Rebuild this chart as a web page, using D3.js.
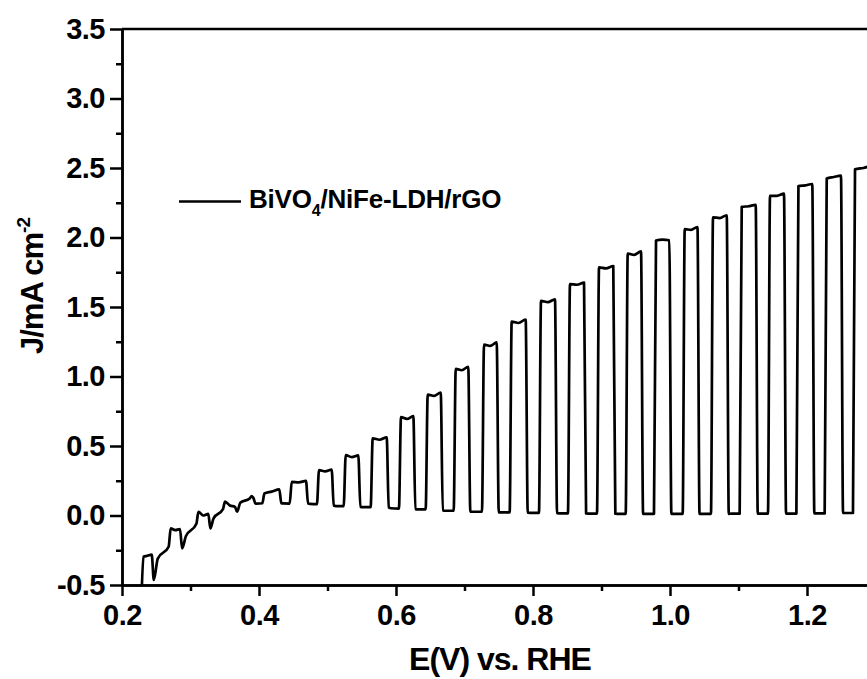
<!DOCTYPE html>
<html>
<head>
<meta charset="utf-8">
<script src="https://cdn.jsdelivr.net/npm/d3@7"></script>
<style>
  html, body { margin: 0; padding: 0; background: #fff; }
  svg { display: block; }
  text { font-family: "Liberation Sans", Arial, sans-serif; font-weight: bold; fill: #000; }
</style>
</head>
<body>
<svg id="chart" width="867" height="679"></svg>
<script>
// tick values
var xTicks = [0.2, 0.4, 0.6, 0.8, 1.0, 1.2];
var xMinor = [0.3, 0.5, 0.7, 0.9, 1.1, 1.3];
var yTicks = [-0.5, 0.0, 0.5, 1.0, 1.5, 2.0, 2.5, 3.0, 3.5];
var yMinor = [-0.25, 0.25, 0.75, 1.25, 1.75, 2.25, 2.75, 3.25];

var seriesName = "BiVO4/NiFe-LDH/rGO";

// chopped light: potential (V vs RHE) where the light goes on / off
var riseE = [0.2288, 0.2686, 0.3091, 0.3479, 0.3869, 0.4054, 0.4453, 0.4851, 0.5241, 0.5635,
             0.6048, 0.6438, 0.6847, 0.7260, 0.7664, 0.8092, 0.8515, 0.8939, 0.9358, 0.9771,
             1.0190, 1.0603, 1.1022, 1.1435, 1.1850, 1.2263, 1.2676];
var fallE = [0.2434, 0.2847, 0.3260, 0.3650, 0.3917, 0.4296, 0.4686, 0.5061, 0.5450, 0.5864,
             0.6253, 0.6653, 0.7055, 0.7470, 0.7893, 0.8321, 0.8745, 0.9172, 0.9577, 0.9990,
             1.0401, 1.0828, 1.1251, 1.1664, 1.2077, 1.2496, 1.2950];

// photocurrent (mA cm-2) at start / middle / end of each light-on step
var topStart = [-0.297, -0.093, 0.027, 0.100, 0.139, 0.159, 0.242, 0.326, 0.434, 0.555,
                0.708, 0.870, 1.055, 1.230, 1.395, 1.545, 1.665, 1.785, 1.885, 1.978,
                2.060, 2.145, 2.220, 2.300, 2.370, 2.425, 2.490];
var topMid   = [-0.290, -0.105, 0.000, 0.072, 0.135, 0.172, 0.238, 0.318, 0.420, 0.545,
                0.695, 0.860, 1.045, 1.220, 1.385, 1.535, 1.660, 1.778, 1.875, 1.985,
                2.055, 2.140, 2.225, 2.300, 2.375, 2.435, 2.500];
var topEnd   = [-0.281, -0.098, 0.012, 0.062, 0.128, 0.188, 0.249, 0.330, 0.432, 0.562,
                0.715, 0.885, 1.070, 1.245, 1.410, 1.555, 1.675, 1.795, 1.900, 1.980,
                2.075, 2.160, 2.235, 2.315, 2.385, 2.445, 2.515];

// dark current: just before light on, right after light off, and later in the dark step
var darkBefore = [-0.620, -0.225, -0.060, 0.045, 0.123, 0.088, 0.086, 0.082, 0.068, 0.060,
                  0.050, 0.044, 0.034, 0.027, 0.022, 0.019, 0.015, 0.014, 0.012, 0.012,
                  0.012, 0.012, 0.013, 0.013, 0.014, 0.015, 0.018];
var darkLow    = [-0.464, -0.236, -0.093, 0.027, 0.087, 0.089, 0.086, 0.072, 0.062, 0.058,
                  0.046, 0.036, 0.028, 0.023, 0.020, 0.016, 0.015, 0.013, 0.012, 0.012,
                  0.012, 0.012, 0.013, 0.014, 0.015, 0.018, 0.020];
var darkMid    = [-0.310, -0.150, -0.020, 0.091, 0.086, 0.087, 0.084, 0.068, 0.060, 0.052,
                  0.044, 0.034, 0.027, 0.022, 0.019, 0.015, 0.014, 0.012, 0.012, 0.012,
                  0.012, 0.013, 0.013, 0.014, 0.015, 0.018, 0.020];

var margin = {top: 29, left: 122, bottom: 94};
var svg = d3.select("#chart");
var H = +svg.attr("height");

var x = d3.scaleLinear().domain([0.2, 1.3]).range([margin.left, margin.left + 753.5]);
var y = d3.scaleLinear().domain([-0.5, 3.5]).range([H - margin.bottom, margin.top]);

// build the trace from the step table
var pts = [];
for (var i = 0; i < riseE.length; i++) {
	pts.push([riseE[i] - 0.0005, darkBefore[i]]);
	pts.push([riseE[i] + 0.0025, topStart[i]]);
	pts.push([(riseE[i] + fallE[i]) / 2 + 0.001, topMid[i]]);
	pts.push([fallE[i], topEnd[i]]);
	pts.push([fallE[i] + 0.003, darkLow[i]]);
	if (i < riseE.length - 1) {
		pts.push([fallE[i] + 0.35 * (riseE[i + 1] - fallE[i]), darkMid[i]]);
	}
}

svg.append("clipPath").attr("id", "plot-clip")
	.append("rect")
	.attr("x", x(0.2)).attr("y", y(3.5))
	.attr("width", x(1.3) - x(0.2)).attr("height", y(-0.5) - y(3.5));

var line = d3.line()
	.x(function(d) { return x(d[0]); })
	.y(function(d) { return y(d[1]); })
	.curve(d3.curveMonotoneX);

svg.append("path")
	.datum(pts)
	.attr("clip-path", "url(#plot-clip)")
	.attr("d", line)
	.attr("fill", "none")
	.attr("stroke", "#000")
	.attr("stroke-width", 2.7)
	.attr("stroke-linejoin", "round");

// frame (top line; right side falls outside the picture)
svg.append("line")
	.attr("x1", x(0.2)).attr("x2", x(1.3))
	.attr("y1", y(3.5)).attr("y2", y(3.5))
	.attr("stroke", "#000").attr("stroke-width", 2.5);

var fmt = function(d) { return d.toFixed(1); };

function styleAxis(g) {
	g.selectAll("path, line").attr("stroke", "#000").attr("stroke-width", 2.5);
	g.selectAll("text").attr("font-size", 29).attr("font-family", null).attr("font-weight", null)
		.style("letter-spacing", "-0.5px");
}

svg.append("g")
	.attr("transform", "translate(0," + y(-0.5) + ")")
	.call(d3.axisBottom(x).tickValues(xMinor).tickFormat("").tickSize(6).tickSizeOuter(0))
	.call(styleAxis);
svg.append("g")
	.attr("transform", "translate(0," + y(-0.5) + ")")
	.call(d3.axisBottom(x).tickValues(xTicks).tickFormat(fmt).tickSize(11).tickPadding(8).tickSizeOuter(0))
	.call(styleAxis);

svg.append("g")
	.attr("transform", "translate(" + x(0.2) + ",0)")
	.call(d3.axisLeft(y).tickValues(yMinor).tickFormat("").tickSize(6).tickSizeOuter(0))
	.call(styleAxis);
svg.append("g")
	.attr("transform", "translate(" + x(0.2) + ",0)")
	.call(d3.axisLeft(y).tickValues(yTicks).tickFormat(fmt).tickSize(12).tickPadding(5).tickSizeOuter(0))
	.call(styleAxis);

// axis titles
svg.append("text")
	.attr("x", 500).attr("y", 670)
	.attr("text-anchor", "middle")
	.attr("font-size", 32)
	.style("letter-spacing", "-1px")
	.text("E(V) vs. RHE");

var yt = svg.append("text")
	.attr("transform", "translate(43,286) rotate(-90)")
	.attr("text-anchor", "middle")
	.attr("font-size", 31)
	.style("letter-spacing", "-1px");
yt.append("tspan").text("J/mA cm");
yt.append("tspan").attr("font-size", 19).attr("dy", -13).text("-2");

// legend
svg.append("line")
	.attr("x1", 179).attr("x2", 241).attr("y1", 201.5).attr("y2", 201.5)
	.attr("stroke", "#000").attr("stroke-width", 2.6);
var lg = svg.append("text")
	.attr("x", 249).attr("y", 208)
	.attr("font-size", 26)
	.style("letter-spacing", "-0.2px");
lg.append("tspan").text(seriesName.slice(0, 4));
lg.append("tspan").attr("font-size", 16).attr("dy", 8).text(seriesName.slice(4, 5));
lg.append("tspan").attr("dy", -8).text(seriesName.slice(5));
</script>
</body>
</html>
